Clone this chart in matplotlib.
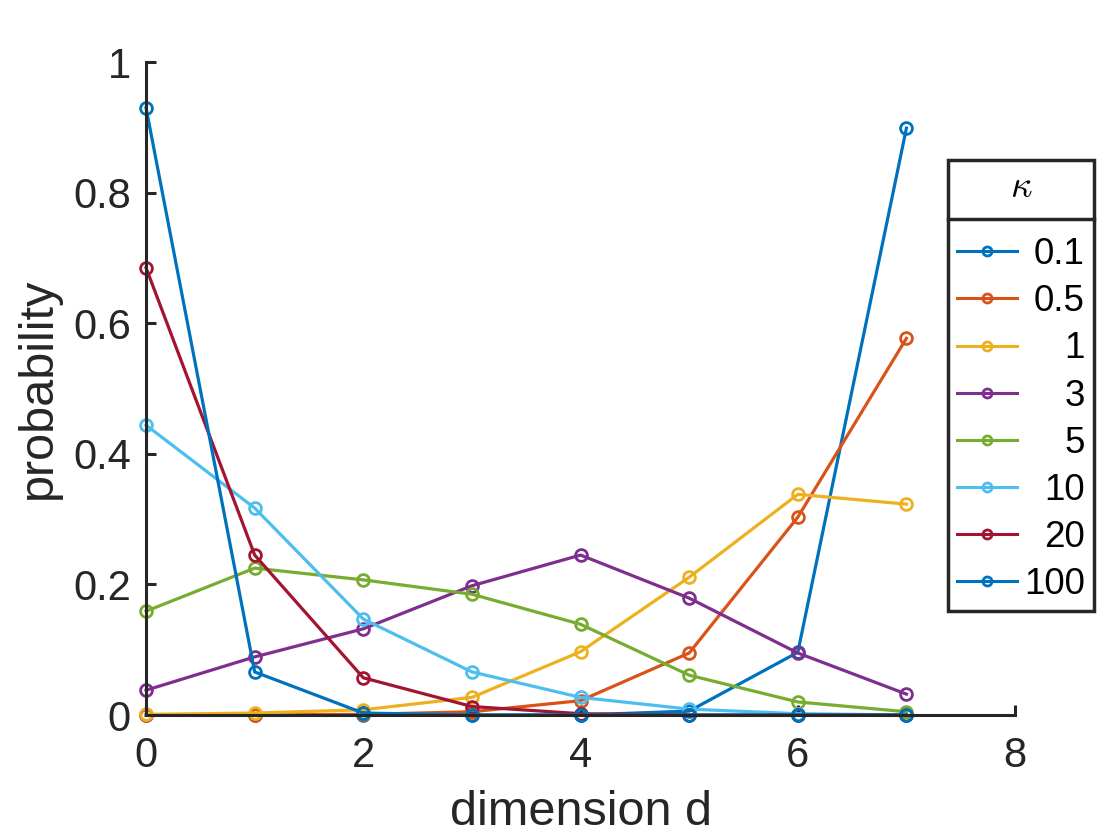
"""Probability over dimension d for several concentration values kappa."""

import matplotlib
import matplotlib.pyplot as plt
from matplotlib.lines import Line2D

matplotlib.use("Agg")

dims = [0, 1, 2, 3, 4, 5, 6, 7]
kappa_labels = ["0.1", "0.5", "1", "3", "5", "10", "20", "100"]

p_k01 = [0.0, 0.0, 0.0, 0.0, 0.0, 0.006, 0.096, 0.899]
p_k05 = [0.0, 0.0, 0.001, 0.005, 0.022, 0.095, 0.303, 0.577]
p_k1 = [0.001, 0.003, 0.008, 0.027, 0.097, 0.211, 0.338, 0.323]
p_k3 = [0.038, 0.089, 0.132, 0.198, 0.245, 0.179, 0.095, 0.032]
p_k5 = [0.159, 0.225, 0.207, 0.185, 0.139, 0.061, 0.020, 0.005]
p_k10 = [0.444, 0.317, 0.147, 0.066, 0.027, 0.009, 0.002, 0.0]
p_k20 = [0.685, 0.245, 0.057, 0.013, 0.002, 0.0, 0.0, 0.0]
p_k100 = [0.930, 0.066, 0.003, 0.0, 0.0, 0.0, 0.0, 0.0]

series = [p_k01, p_k05, p_k1, p_k3, p_k5, p_k10, p_k20, p_k100]
colors = ["#0072BD", "#D95319", "#EDB120", "#7E2F8E",
          "#77AC30", "#4DBEEE", "#A2142F", "#0072BD"]

AX_COLOR = "#262626"
plt.rcParams["font.family"] = ["Liberation Sans", "DejaVu Sans"]
plt.rcParams["mathtext.fontset"] = "cm"

fig = plt.figure(figsize=(11.2, 8.4), dpi=100)
ax = fig.add_axes([0.1304, 0.1488, 0.9063 - 0.1304, 0.926 - 0.1488])

for vals, lab, col in zip(series, kappa_labels, colors):
    ax.plot(dims, vals, color=col, linewidth=2.3, marker="o", markersize=8.5,
            markerfacecolor="none", markeredgewidth=2.0, label=lab, clip_on=False)

ax.set_xlim(0, 8)
ax.set_ylim(0, 1)
ax.set_xticks([0, 2, 4, 6, 8])
ax.set_yticks([0, 0.2, 0.4, 0.6, 0.8, 1])
ax.set_yticklabels(["0", "0.2", "0.4", "0.6", "0.8", "1"])
ax.set_xlabel("dimension d", fontsize=35, color=AX_COLOR, labelpad=10)
ax.set_ylabel("probability", fontsize=35, color=AX_COLOR, labelpad=9)

for side in ["top", "right"]:
    ax.spines[side].set_visible(False)
for side in ["left", "bottom"]:
    ax.spines[side].set_color(AX_COLOR)
    ax.spines[side].set_linewidth(2.2)
ax.tick_params(direction="in", length=7, width=2.2, colors=AX_COLOR,
               labelsize=30)
ax.tick_params(axis="x", pad=15)
ax.tick_params(axis="y", pad=11)

leg = ax.legend(title=r"$\kappa$", loc="upper left",
                bbox_to_anchor=(0.846, 0.8095), bbox_transform=fig.transFigure,
                borderaxespad=0, fontsize=26.5, title_fontsize=27,
                handlelength=1.63, handletextpad=0.2, labelspacing=0.33,
                borderpad=0.25, fancybox=False, framealpha=1)
leg.get_frame().set_edgecolor(AX_COLOR)
leg.get_frame().set_linewidth(2.5)
for h in leg.legend_handles:
    h.set_markersize(6.5)
    h.set_linewidth(2.2)
# more room between the title and the first entry
leg._legend_box.sep = 23

# right-align the legend labels like MATLAB does
fig.canvas.draw()
renderer = fig.canvas.get_renderer()
widths = [t.get_window_extent(renderer).width for t in leg.get_texts()]
shift = max(widths)
for t, w in zip(leg.get_texts(), widths):
    t.set_position((shift - w, 0))

# separator under the legend title
fig.canvas.draw()
inv = fig.transFigure.inverted()
lb = leg.get_window_extent(renderer).transformed(inv)
tb = leg.get_title().get_window_extent(renderer)
ysep = inv.transform((0, tb.y0 - 14))[1]
fig.add_artist(Line2D([lb.x0, lb.x1], [ysep, ysep], color=AX_COLOR,
                      linewidth=2.5, transform=fig.transFigure))

fig.savefig("out.png", dpi=100)
plt.close(fig)
